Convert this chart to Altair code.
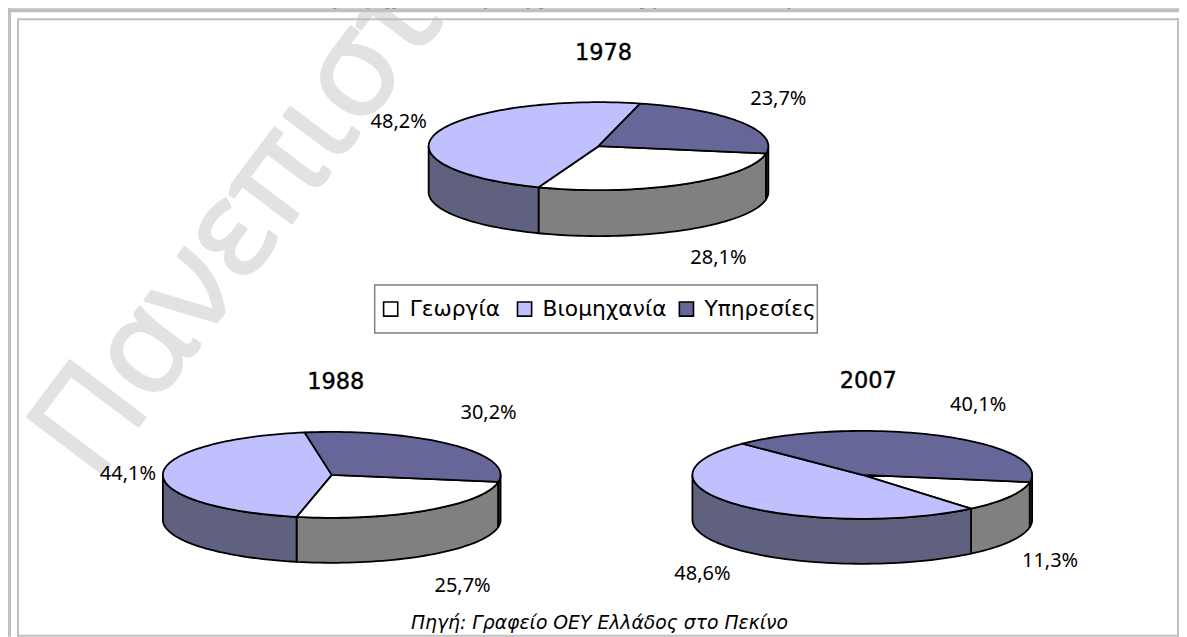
import math
import altair as alt
import pandas as pd

# ---------- values ----------
sectors = ["Γεωργία", "Βιομηχανία", "Υπηρεσίες"]
years = ["1978", "1988", "2007"]
share_1978 = [28.1, 48.2, 23.7]
share_1988 = [25.7, 44.1, 30.2]
share_2007 = [11.3, 48.6, 40.1]
shares = [share_1978, share_1988, share_2007]
title_text = "Γράφημα 5: Εξέλιξη σύνθεσης ΑΕΠ Κίνας"
source_text = "Πηγή: Γραφείο ΟΕΥ Ελλάδος στο Πεκίνο"
watermark_text = "Πανεπιστήμιο"

# ---------- styles / layout ----------
top_colors = ["#FFFFFF", "#C0C0FF", "#666699"]
side_colors = ["#808080", "#60607F", "#33334C"]
M = 8
W, H = 1172, 629
FRAME = "#C0C0C0"
pies = [
    dict(cx=599, cy=146, rx=170, ry=44, d=46),
    dict(cx=332, cy=475, rx=169, ry=43, d=45),
    dict(cx=863, cy=475, rx=170, ry=44, d=45),
]
START = 9.5
label_pos = [
    [(719, 258), (399, 122), (779, 99)],
    [(463, 586), (128, 474), (489, 413)],
    [(1051, 561), (703, 574), (979, 405)],
]
title_pos = [(604, 53), (336, 382), (869, 381)]
legend_swatch_x = [391, 525, 687]
legend_text_x = [410, 543, 705]
legend_y = 309


def arc(p, a0, a1, dy=0.0, step=2.0):
    n = max(2, int(abs(a1 - a0) / step) + 1)
    pts = []
    for i in range(n + 1):
        t = math.radians(a0 + (a1 - a0) * i / n)
        pts.append([p["cx"] + p["rx"] * math.cos(t) - M, p["cy"] + p["ry"] * math.sin(t) + dy - M])
    return pts


def feature(coords, fill, order):
    return {
        "type": "Feature",
        "properties": {"fill": fill, "order": order},
        "geometry": {"type": "Polygon", "coordinates": [coords + [coords[0]]]},
    }


features = []
for p, vals in zip(pies, shares):
    a = START
    spans = []
    for v in vals:
        b = a + v * 3.6
        spans.append((a, b))
        a = b
    # walls: only the front half (0..180 and 360..) of the disc is visible
    for (a0, b0), c in zip(spans, side_colors):
        for lo, hi in ((a0, b0), (a0 - 360, b0 - 360)):
            s, e = max(lo, 0), min(hi, 180)
            if e > s:
                features.append(feature(arc(p, s, e) + arc(p, e, s, dy=p["d"]), c, len(features)))
    for (a0, b0), c in zip(spans, top_colors):
        centre = [p["cx"] - M, p["cy"] - M]
        features.append(feature([centre] + arc(p, a0, b0), c, len(features)))

geo = (
    alt.Chart(alt.Data(values=features))
    .mark_geoshape(stroke="black", strokeWidth=1.8, strokeJoin="round")
    .encode(fill=alt.Fill("properties.fill:N", scale=None))
    .project(type="identity", scale=1, translate=[0, 0])
)


def band(x0, x1, y0, y1, color=FRAME):
    return (
        alt.Chart(pd.DataFrame({"k": [0]}))
        .mark_rect(color=color)
        .encode(
            x=alt.value(x0 - M), x2=alt.value(x1 - M), y=alt.value(y0 - M), y2=alt.value(y1 - M)
        )
    )


def texts(rows, **style):
    df = pd.DataFrame(rows, columns=["x", "y", "t"])
    df["x"] -= M
    df["y"] -= M
    return (
        alt.Chart(df)
        .mark_text(**style)
        .encode(x=alt.X("x:Q", scale=None), y=alt.Y("y:Q", scale=None), text="t:N")
    )


watermark = texts(
    [(95, 484, watermark_text)],
    font="Open Sans", fontSize=132, color="#E2E2E2", stroke="#E2E2E2", strokeWidth=3,
    strokeJoin="round", angle=307, align="left", baseline="alphabetic",
)
title = texts(
    [(555, 6, title_text)],
    font="Liberation Serif", fontSize=27, fontStyle="italic", fontWeight="bold",
    color="black", align="center", baseline="alphabetic",
)
frames = (
    band(7, 1180, 8, 12) + band(7, 11, 8, 637) + band(17, 1180, 18, 20)
    + band(17, 19, 18, 637) + band(1178, 1180, 18, 637) + band(17, 1180, 635, 637)
)
legend_box = (
    alt.Chart(pd.DataFrame({"k": [0]}))
    .mark_rect(fill="white", stroke="#808080", strokeWidth=1.5)
    .encode(x=alt.value(375 - M), x2=alt.value(818 - M), y=alt.value(285 - M), y2=alt.value(333 - M))
)
swatch_df = pd.DataFrame(
    {"x": [v - M for v in legend_swatch_x], "y": [legend_y - M] * 3, "c": top_colors, "s": sectors}
)
swatches = (
    alt.Chart(swatch_df)
    .mark_square(size=200, stroke="black", strokeWidth=1.6, opacity=1)
    .encode(x=alt.X("x:Q", scale=None), y=alt.Y("y:Q", scale=None), fill=alt.Fill("c:N", scale=None))
)
legend_text = texts(
    [(x, legend_y, s) for x, s in zip(legend_text_x, sectors)],
    font="DejaVu Sans", fontSize=21.8, color="black", align="left", baseline="middle",
)
pct_rows = []
for pos, vals in zip(label_pos, shares):
    for (x, y), v in zip(pos, vals):
        pct_rows.append((x, y, f"{v:.1f}%".replace(".", ",")))
pct = texts(pct_rows, font="Noto Sans", fontSize=20, color="black", align="center", baseline="middle")
year_text = texts(
    [(x, y, t) for (x, y), t in zip(title_pos, years)],
    font="DejaVu Sans", fontSize=22.5, color="black", stroke="black", strokeWidth=0.4,
    align="center", baseline="middle",
)
source = texts(
    [(600, 623, source_text)],
    font="DejaVu Sans", fontSize=18.8, fontStyle="italic", color="black", align="center", baseline="middle",
)

chart = (
    alt.layer(watermark, title, frames, geo, legend_box, swatches, legend_text, pct, year_text, source)
    .properties(
        width=W, height=H, padding=0, background="white",
        autosize=alt.AutoSizeParams(type="none"),
    )
    .configure_view(stroke=None)
)
chart.save("out.html", embed_options={"renderer": "svg", "actions": False})
